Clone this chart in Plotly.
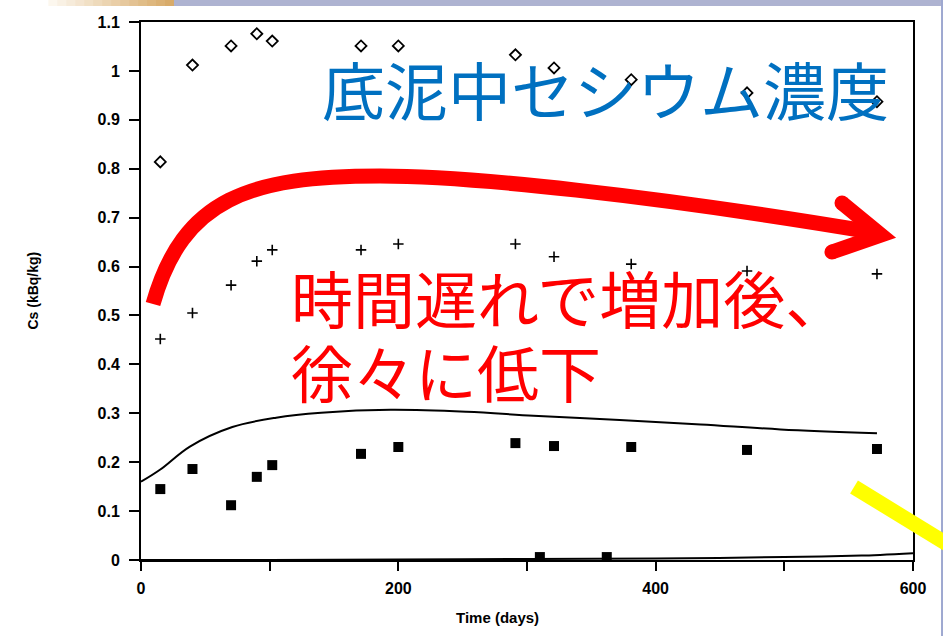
import plotly.graph_objects as go

# Cs concentration in bottom sediment (kBq/kg) versus time (days)
days_obs = [15, 40, 70, 90, 102, 171, 200, 291, 321, 381, 471, 572]
cs_diamond = [0.814, 1.012, 1.051, 1.076, 1.061, 1.051, 1.051, 1.033, 1.006, 0.982, 0.955, 0.937]
cs_plus = [0.452, 0.505, 0.562, 0.611, 0.634, 0.634, 0.646, 0.646, 0.620, 0.605, 0.591, 0.585]

days_square = [15, 40, 70, 90, 102, 171, 200, 291, 310, 321, 362, 381, 471, 572]
cs_square = [0.145, 0.186, 0.112, 0.170, 0.194, 0.217, 0.231, 0.239, 0.006, 0.233, 0.006, 0.231, 0.225, 0.227]

# model curves
days_model = [0, 15, 38, 71, 105, 140, 194, 253, 305, 372, 435, 497, 572]
cs_model = [0.160, 0.185, 0.232, 0.272, 0.291, 0.301, 0.307, 0.303, 0.295, 0.286, 0.277, 0.267, 0.259]

days_low = [0, 100, 200, 300, 400, 500, 560, 600]
cs_low = [0.0, 0.0, 0.001, 0.002, 0.003, 0.006, 0.009, 0.014]

x_tickvals = [0, 100, 200, 300, 400, 500, 600]
x_ticktext = ["0", "", "200", "", "400", "", "600"]
y_tickvals = [0, 0.1, 0.2, 0.3, 0.4, 0.5, 0.6, 0.7, 0.8, 0.9, 1.0, 1.1]
y_ticktext = ["0", "0.1", "0.2", "0.3", "0.4", "0.5", "0.6", "0.7", "0.8", "0.9", "1", "1.1"]

title_text = "底泥中セシウム濃度"
note_lines = ["時間遅れで増加後、", "徐々に低下"]

LAT = "Liberation Sans, Arial, sans-serif"
CJK = "Noto Sans CJK JP, sans-serif"

fig = go.Figure()

fig.add_trace(go.Scatter(x=days_model, y=cs_model, mode="lines",
                         line=dict(color="black", width=2, shape="spline", smoothing=1.0),
                         hoverinfo="skip"))
fig.add_trace(go.Scatter(x=days_low, y=cs_low, mode="lines",
                         line=dict(color="black", width=2, shape="spline", smoothing=0.6),
                         hoverinfo="skip"))
fig.add_trace(go.Scatter(x=days_obs, y=cs_diamond, mode="markers",
                         marker=dict(symbol="diamond-open", size=8.5, color="black",
                                     line=dict(width=1.8, color="black"))))
fig.add_trace(go.Scatter(x=days_obs, y=cs_plus, mode="markers",
                         marker=dict(symbol="cross-thin-open", size=7.5, color="black",
                                     line=dict(width=1.6, color="black"))))
fig.add_trace(go.Scatter(x=days_square, y=cs_square, mode="markers",
                         marker=dict(symbol="square", size=10, color="black",
                                     line=dict(width=0))))

shapes = []

# header strip: beige gradient then lavender bar
n_steps = 14
c0 = (252, 247, 238)
c1 = (216, 171, 106)
gx0, gx1 = -0.120, 0.0427
for i in range(n_steps):
    t = i / (n_steps - 1)
    col = tuple(int(round(c0[k] + (c1[k] - c0[k]) * t)) for k in range(3))
    shapes.append(dict(type="rect", xref="paper", yref="paper",
                       x0=gx0 + (gx1 - gx0) * i / n_steps,
                       x1=gx0 + (gx1 - gx0) * (i + 1) / n_steps + 0.001,
                       y0=1.0297, y1=1.045, line=dict(width=0),
                       fillcolor="rgb(%d,%d,%d)" % col))
shapes.append(dict(type="rect", xref="paper", yref="paper", x0=0.0427, x1=1.05,
                   y0=1.0297, y1=1.045, line=dict(width=0), fillcolor="#aeb3d1"))
shapes.append(dict(type="rect", xref="paper", yref="paper", x0=1.0363, x1=1.05,
                   y0=-0.2, y1=1.045, line=dict(width=0), fillcolor="#9ea8d0"))

# red trend arrow
shapes.append(dict(type="path", xref="x", yref="y",
                   path="M 9.33,0.5234 C 32.64,0.7402 84.71,0.7851 185.75,0.7851 "
                        "C 255.7,0.7851 395.6,0.7463 568.1,0.6706",
                   line=dict(color="#ff0000", width=15)))
shapes.append(dict(type="path", xref="x", yref="y",
                   path="M 544.8,0.7299 L 575.1,0.6645 L 537.0,0.6297",
                   line=dict(color="#ff0000", width=15)))
for bx, by in [(544.8, 0.7299), (537.0, 0.6297)]:
    shapes.append(dict(type="circle", xref="x", yref="y", xsizemode="pixel",
                       ysizemode="pixel", xanchor=bx, yanchor=by,
                       x0=-7.5, x1=7.5, y0=-7.5, y1=7.5,
                       fillcolor="#ff0000", line=dict(width=0)))

# yellow marker stroke at lower right
shapes.append(dict(type="line", xref="paper", yref="paper",
                   x0=0.9236, y0=0.1357, x1=1.0609, y1=0.0149,
                   line=dict(color="#ffff00", width=15)))

# two-line red note: small base size sets the line pitch, spans set glyph size
note_html = "<br>".join('<span style="font-size:62px">%s</span>' % s for s in note_lines)

annotations = [
    dict(text=title_text, x=139.1, y=0.967, xref="x", yref="y",
         xanchor="left", yanchor="middle", showarrow=False,
         font=dict(family=CJK, size=63, color="#0070c0")),
    dict(text=note_html, x=115.0, y=0.462, xref="x", yref="y",
         xanchor="left", yanchor="middle", align="left", showarrow=False,
         font=dict(family=CJK, size=57, color="#ff0000")),
    dict(text="Time (days)", x=0.4624, y=-0.1078, xref="paper", yref="paper",
         xanchor="center", yanchor="middle", showarrow=False,
         font=dict(family=LAT, size=15, color="black", weight="bold")),
    dict(text="Cs (kBq/kg)", x=-0.1405, y=0.5, xref="paper", yref="paper",
         xanchor="center", yanchor="middle", showarrow=False, textangle=-90,
         font=dict(family=LAT, size=14, color="black", weight="bold")),
]

fig.update_layout(
    width=943, height=636,
    margin=dict(l=141, r=30, t=22, b=76),
    paper_bgcolor="white", plot_bgcolor="white",
    showlegend=False,
    shapes=shapes,
    annotations=annotations,
    xaxis=dict(range=[0, 600], tickvals=x_tickvals, ticktext=x_ticktext,
               ticks="outside", ticklen=9, tickwidth=2, tickcolor="black",
               showline=True, linecolor="black", linewidth=2, mirror=True,
               showgrid=False, zeroline=False, ticklabelstandoff=4,
               tickfont=dict(family=LAT, size=16, color="black", weight="bold")),
    yaxis=dict(range=[0, 1.1], tickvals=y_tickvals, ticktext=y_ticktext,
               ticks="outside", ticklen=10, tickwidth=2, tickcolor="black",
               showline=True, linecolor="black", linewidth=2, mirror=True,
               showgrid=False, zeroline=False, ticklabelstandoff=6,
               tickfont=dict(family=LAT, size=16, color="black", weight="bold")),
)

fig.write_html("out.html")
